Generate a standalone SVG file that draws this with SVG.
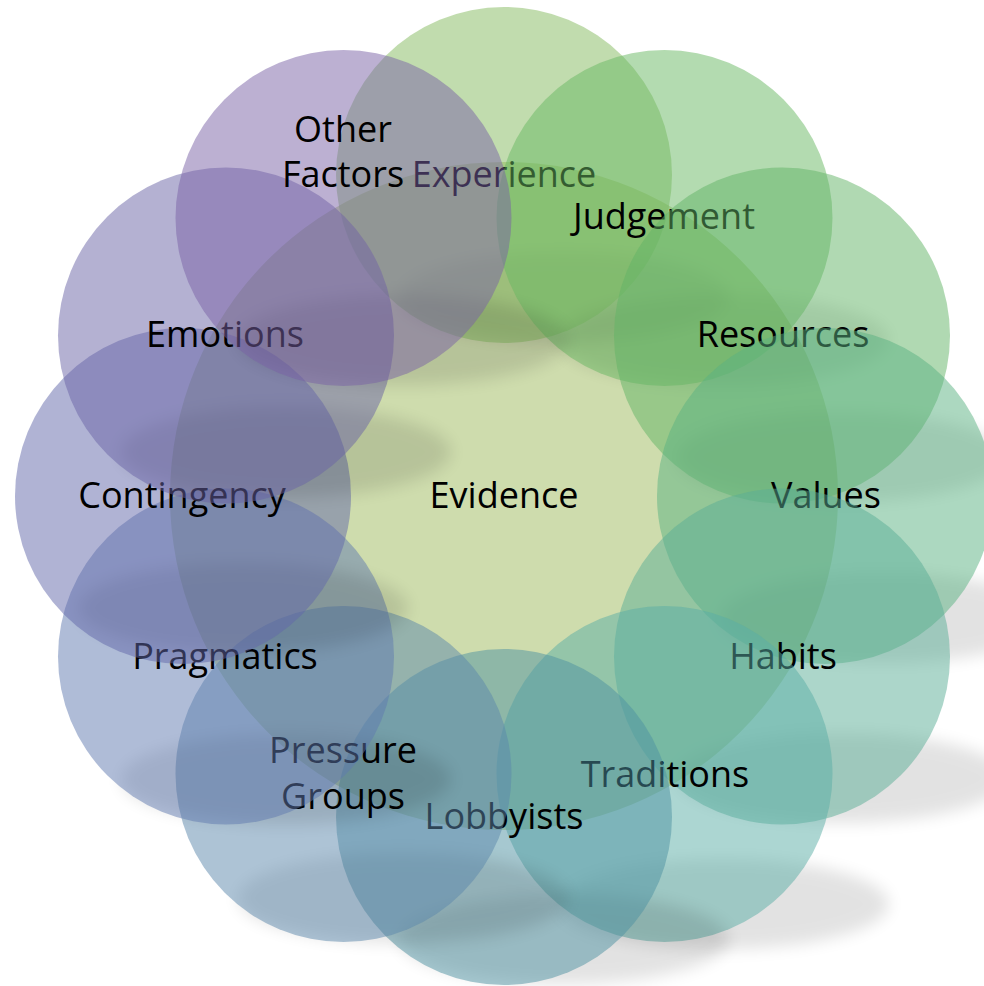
<svg xmlns="http://www.w3.org/2000/svg" width="984" height="986" viewBox="0 0 984 986">
<defs>
<filter id="blur" x="-20%" y="-70%" width="140%" height="240%"><feGaussianBlur stdDeviation="8"/></filter>
</defs>
<style>
.sh{fill:#000;opacity:0.11;filter:url(#blur)}
.c{fill-opacity:0.5}
text{font-family:"Open Sans","Liberation Sans",sans-serif;font-size:36px;fill:#000;text-anchor:middle}
</style>
<rect width="984" height="986" fill="#fff"/>
<g id="evidence">
<circle cx="504" cy="496" r="334" fill="#cedcad"/>
<text x="504" y="508">Evidence</text>
</g>
<g id="experience">
<ellipse class="sh" cx="564" cy="297" rx="165" ry="45"/>
<circle class="c" cx="504" cy="175" r="168" fill="#83b95d"/>
<text x="504" y="187">Experience</text>
</g>
<g id="judgement">
<ellipse class="sh" cx="724" cy="340" rx="165" ry="45"/>
<circle class="c" cx="664.5" cy="218" r="168" fill="#67b761"/>
<text x="664" y="229">Judgement</text>
</g>
<g id="resources">
<ellipse class="sh" cx="842" cy="457" rx="165" ry="45"/>
<circle class="c" cx="782" cy="335.5" r="168" fill="#61b365"/>
<text x="783" y="347">Resources</text>
</g>
<g id="values">
<ellipse class="sh" cx="885" cy="618" rx="165" ry="45"/>
<circle class="c" cx="825" cy="496" r="168" fill="#59b181"/>
<text x="826" y="508">Values</text>
</g>
<g id="habits">
<ellipse class="sh" cx="842" cy="778" rx="165" ry="45"/>
<circle class="c" cx="782" cy="656.5" r="168" fill="#59ad95"/>
<text x="783" y="669">Habits</text>
</g>
<g id="traditions">
<ellipse class="sh" cx="724" cy="904" rx="165" ry="45"/>
<circle class="c" cx="664.5" cy="774" r="168" fill="#59ada5"/>
<text x="665" y="787">Traditions</text>
</g>
<g id="lobbyists">
<ellipse class="sh" cx="564" cy="939" rx="165" ry="45"/>
<circle class="c" cx="504" cy="817" r="168" fill="#4d91a1"/>
<text x="504" y="829">Lobbyists</text>
</g>
<g id="pressure-groups">
<ellipse class="sh" cx="403" cy="898" rx="165" ry="45"/>
<circle class="c" cx="343.5" cy="774" r="168" fill="#5b87ab"/>
<text x="343" y="763">Pressure</text>
<text x="343" y="809">Groups</text>
</g>
<g id="pragmatics">
<ellipse class="sh" cx="286" cy="779" rx="165" ry="45"/>
<circle class="c" cx="226" cy="656.5" r="168" fill="#5f79af"/>
<text x="225" y="669">Pragmatics</text>
</g>
<g id="contingency">
<ellipse class="sh" cx="243" cy="608" rx="165" ry="45"/>
<circle class="c" cx="183" cy="496" r="168" fill="#6167a9"/>
<text x="182" y="508">Contingency</text>
</g>
<g id="emotions">
<ellipse class="sh" cx="286" cy="452" rx="165" ry="45"/>
<circle class="c" cx="226" cy="335.5" r="168" fill="#6963a5"/>
<text x="225" y="347">Emotions</text>
</g>
<g id="other-factors">
<ellipse class="sh" cx="403" cy="340" rx="165" ry="45"/>
<circle class="c" cx="343.5" cy="218" r="168" fill="#7961a5"/>
<text x="343" y="142">Other</text>
<text x="343" y="187">Factors</text>
</g>
</svg>
